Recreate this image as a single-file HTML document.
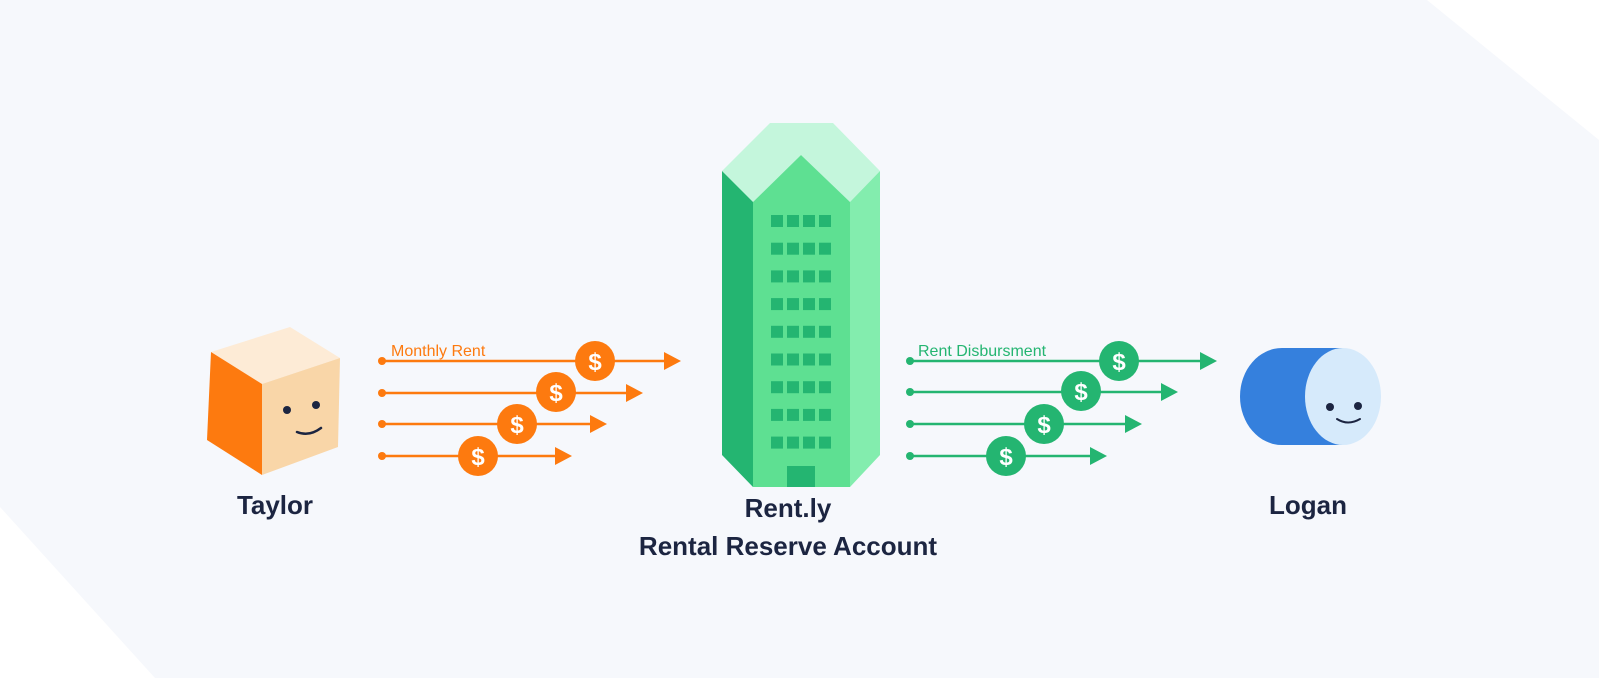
<!DOCTYPE html>
<html><head><meta charset="utf-8"><style>
html,body{margin:0;padding:0;background:#fff;}
svg{display:block}
text{font-family:"Liberation Sans",sans-serif}
</style></head><body>
<svg width="1599" height="678" viewBox="0 0 1599 678" xmlns="http://www.w3.org/2000/svg">
<polygon points="0,0 1427,0 1599,140 1599,678 155,678 0,507" fill="#f6f8fc"/>
<!-- cube -->
<polygon points="290,327 211,352 262,384 340,358" fill="#fdebd6"/>
<polygon points="211,352 262,384 262,475 207,440" fill="#fd7a0f"/>
<polygon points="262,384 340,358 338,447 262,475" fill="#f9d6a8"/>
<circle cx="287" cy="410" r="4" fill="#1c2541"/>
<circle cx="316" cy="405" r="4" fill="#1c2541"/>
<path d="M297,432 Q309,437 321,428" stroke="#1c2541" stroke-width="2.5" fill="none" stroke-linecap="round"/>
<text x="275" y="514" font-size="26" font-weight="bold" fill="#1c2541" text-anchor="middle">Taylor</text>
<!-- orange arrows -->
<g stroke="#fd7a0f" stroke-width="2.5" fill="#fd7a0f">
<line x1="382" y1="361" x2="666" y2="361"/><polygon points="664,352 681,361 664,370" stroke="none"/><circle cx="382" cy="361" r="4" stroke="none"/>
<line x1="382" y1="393" x2="628" y2="393"/><polygon points="626,384 643,393 626,402" stroke="none"/><circle cx="382" cy="393" r="4" stroke="none"/>
<line x1="382" y1="424" x2="592" y2="424"/><polygon points="590,415 607,424 590,433" stroke="none"/><circle cx="382" cy="424" r="4" stroke="none"/>
<line x1="382" y1="456" x2="557" y2="456"/><polygon points="555,447 572,456 555,465" stroke="none"/><circle cx="382" cy="456" r="4" stroke="none"/>
</g>
<text x="391" y="356" font-size="16" fill="#fd7a0f">Monthly Rent</text>
<g fill="#fd7a0f"><circle cx="595" cy="361" r="20"/><circle cx="556" cy="392" r="20"/><circle cx="517" cy="424" r="20"/><circle cx="478" cy="456" r="20"/></g>
<g fill="#fff" font-size="24" font-weight="bold" text-anchor="middle">
<text x="595" y="370">$</text><text x="556" y="401">$</text><text x="517" y="433">$</text><text x="478" y="465">$</text></g>
<!-- building -->
<polygon points="770,123 833,123 880,171 850,202 801,155 753,202 722,171" fill="#c4f6dc"/>
<polygon points="722,171 753,202 753,487 722,455" fill="#24b571"/>
<polygon points="753,202 801,155 850,202 850,487 753,487" fill="#5ee092"/>
<polygon points="850,202 880,171 880,455 850,487" fill="#83edae"/>
<g fill="#24b571">
<rect x="787" y="466" width="28" height="21"/>
</g>
<g fill="#24b571" id="w">
<rect x="771" y="215" width="12" height="12"/><rect x="787" y="215" width="12" height="12"/><rect x="803" y="215" width="12" height="12"/><rect x="819" y="215" width="12" height="12"/>
</g>
<use href="#w" y="27.7"/><use href="#w" y="55.4"/><use href="#w" y="83.1"/><use href="#w" y="110.8"/><use href="#w" y="138.5"/><use href="#w" y="166.2"/><use href="#w" y="193.9"/><use href="#w" y="221.6"/>
<text x="788" y="517" font-size="26" font-weight="bold" fill="#1c2541" text-anchor="middle">Rent.ly</text>
<text x="788" y="555" font-size="26" font-weight="bold" fill="#1c2541" text-anchor="middle">Rental Reserve Account</text>
<!-- green arrows -->
<g stroke="#24b571" stroke-width="2.5" fill="#24b571">
<line x1="910" y1="361" x2="1202" y2="361"/><polygon points="1200,352 1217,361 1200,370" stroke="none"/><circle cx="910" cy="361" r="4" stroke="none"/>
<line x1="910" y1="392" x2="1163" y2="392"/><polygon points="1161,383 1178,392 1161,401" stroke="none"/><circle cx="910" cy="392" r="4" stroke="none"/>
<line x1="910" y1="424" x2="1127" y2="424"/><polygon points="1125,415 1142,424 1125,433" stroke="none"/><circle cx="910" cy="424" r="4" stroke="none"/>
<line x1="910" y1="456" x2="1092" y2="456"/><polygon points="1090,447 1107,456 1090,465" stroke="none"/><circle cx="910" cy="456" r="4" stroke="none"/>
</g>
<text x="918" y="356" font-size="16" fill="#24b571">Rent Disbursment</text>
<g fill="#24b571"><circle cx="1119" cy="361" r="20"/><circle cx="1081" cy="391" r="20"/><circle cx="1044" cy="424" r="20"/><circle cx="1006" cy="456" r="20"/></g>
<g fill="#fff" font-size="24" font-weight="bold" text-anchor="middle">
<text x="1119" y="370">$</text><text x="1081" y="400">$</text><text x="1044" y="433">$</text><text x="1006" y="465">$</text></g>
<!-- cylinder -->
<path d="M1282,348 L1343,348 L1343,445 L1282,445 A42,48.5 0 0 1 1282,348 Z" fill="#3580dd"/>
<ellipse cx="1343" cy="396.5" rx="38" ry="48.5" fill="#d6eafb"/>
<circle cx="1330" cy="407" r="4" fill="#1c2541"/>
<circle cx="1358" cy="406" r="4" fill="#1c2541"/>
<path d="M1337,419 Q1348,426 1360,419" stroke="#1c2541" stroke-width="2" fill="none" stroke-linecap="round"/>
<text x="1308" y="514" font-size="26" font-weight="bold" fill="#1c2541" text-anchor="middle">Logan</text>
</svg>
</body></html>
